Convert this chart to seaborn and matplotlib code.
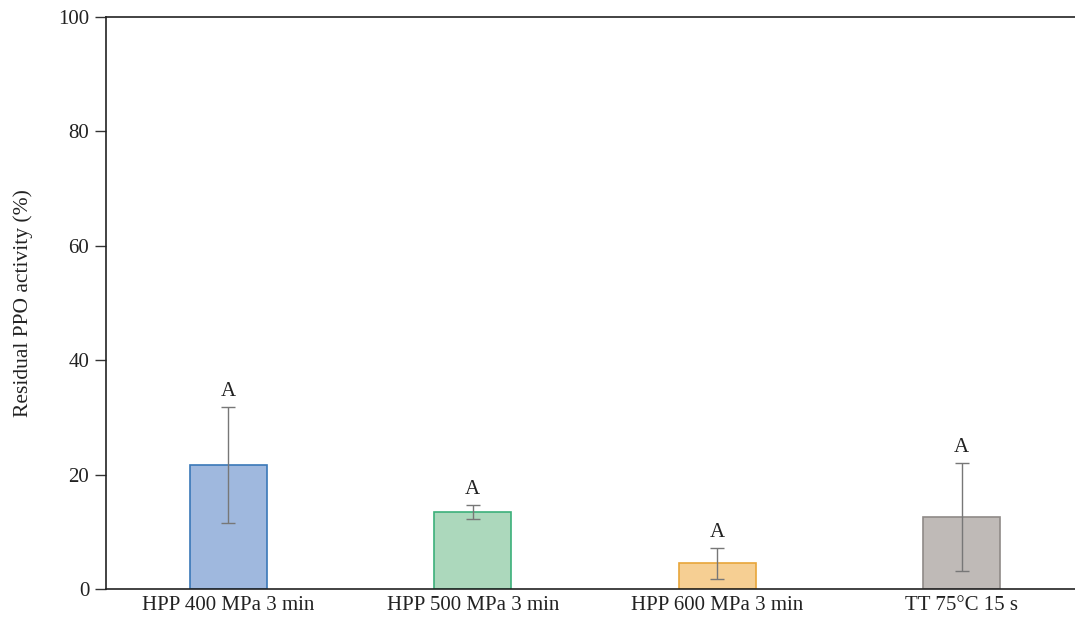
import matplotlib
matplotlib.use("Agg")
import matplotlib.pyplot as plt
import seaborn as sns
import pandas as pd

treatments = ["HPP 400 MPa 3 min", "HPP 500 MPa 3 min", "HPP 600 MPa 3 min", "TT 75°C 15 s"]
activity = [21.7, 13.5, 4.5, 12.6]
sd = [10.2, 1.25, 2.7, 9.4]
letters = ["A", "A", "A", "A"]
fills = ["#9fb8de", "#acd8bc", "#f6cf93", "#bfbab7"]
edges = ["#3a78b8", "#3cb07a", "#e8a53a", "#8f8a87"]

df = pd.DataFrame({"treatment": treatments, "activity": activity})

sns.set_style("white")
plt.rcParams["font.family"] = ["Liberation Serif", "DejaVu Serif"]

fig = plt.figure(figsize=(10.75, 6.22), dpi=100)
ax = fig.add_axes([106 / 1075, 1 - 589 / 622, 1 - 106 / 1075, 572 / 622])

sns.barplot(data=df, x="treatment", y="activity", hue="treatment",
            palette=fills, saturation=1, width=0.315, legend=False, ax=ax,
            errorbar=None)
for patch, ec in zip(ax.patches, edges):
    patch.set_edgecolor(ec)
    patch.set_linewidth(1.2)

xs = range(len(treatments))
ax.errorbar(xs, activity, yerr=sd, fmt="none", ecolor="#777777",
            elinewidth=1.0, capsize=5, capthick=1.0, zorder=5)
for x, y, e, lab in zip(xs, activity, sd, letters):
    ax.text(x, y + e + 1.0, lab, ha="center", va="bottom", fontsize=15, color="#222222")

ax.set_xlim(-0.5, 3.463)
ax.set_ylim(0, 100)
ax.set_yticks([0, 20, 40, 60, 80, 100])
ax.set_xlabel("")
ax.set_ylabel("Residual PPO activity (%)", fontsize=15.5, color="#222222", labelpad=18)
ax.tick_params(axis="y", direction="out", length=8, width=1, color="#333333",
               labelsize=15, labelcolor="#222222", pad=4, left=True)
ax.tick_params(axis="x", length=0, labelsize=15, labelcolor="#222222", pad=5)
for side in ["left", "top", "bottom"]:
    ax.spines[side].set_color("#222222")
    ax.spines[side].set_linewidth(1.2)
ax.spines["right"].set_visible(False)

fig.savefig("out.png", dpi=100)
